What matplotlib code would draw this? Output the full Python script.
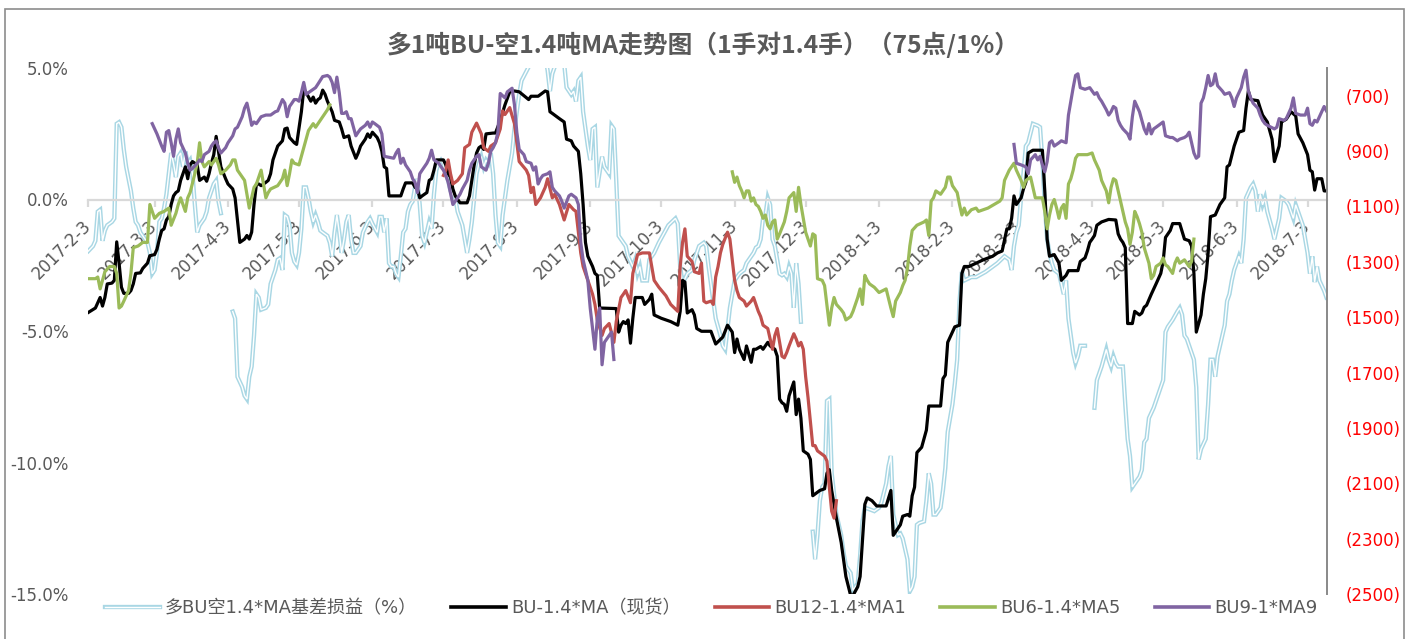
import datetime as dt
import numpy as np
import matplotlib
matplotlib.use("Agg")
import matplotlib.pyplot as plt
import matplotlib.dates as mdates
from matplotlib.ticker import FixedLocator, FuncFormatter
from matplotlib.lines import Line2D
from matplotlib.legend_handler import HandlerTuple
from matplotlib.patches import Rectangle
from matplotlib.font_manager import FontProperties

# ---------------- data ----------------
START_DATE = "2017-02-03"     # day 0 of the series (trading-day offsets below)
END_OFFSET = 523              # last day shown on the axis (2018-07-11)
TITLE = "多1吨BU-空1.4吨MA走势图（1手对1.4手）（75点/1%）"
TICK_DATES = ["2017-2-3", "2017-3-3", "2017-4-3", "2017-5-3", "2017-6-3", "2017-7-3",
              "2017-8-3", "2017-9-3", "2017-10-3", "2017-11-3", "2017-12-3", "2018-1-3",
              "2018-2-3", "2018-3-3", "2018-4-3", "2018-5-3", "2018-6-3", "2018-7-3"]
LEFT_TICKS = [-15, -10, -5, 0, 5]
RIGHT_TICKS = [-2500, -2300, -2100, -1900, -1700, -1500, -1300, -1100, -900, -700]
NAMES = ["多BU空1.4*MA基差损益（%）", "BU-1.4*MA（现货）", "BU12-1.4*MA1", "BU6-1.4*MA5", "BU9-1*MA9"]

# basis P&L in % (left axis); None = missing data
basis_pnl = [
    (0, -1.96), (2, -1.77), (3, -1.57), (4, -0.46), (5, -0.39), (6, -1.57), (7, -1.18), (8, -0.98),
    (10, -0.85), (11, -0.72), (12, 2.88), (13, 2.94), (14, 2.75), (15, 1.90), (16, 1.24), (17, 0.78),
    (18, 0.33), (19, -0.33), (20, -0.85), (21, -0.98), (22, -1.25), (23, -1.38), (24, -1.51), (25, -1.64),
    (26, -2.03), (27, -2.82), (28, -2.68), (29, -2.03), (30, -0.85), (31, -0.72), (32, -0.33), (33, 0.20),
    (34, 0.98), (35, 1.77), (36, 1.37), (37, 0.85), (38, 1.63), (39, 1.77), (40, 1.24), (41, 1.83),
    (42, 1.37), (43, 1.50), (44, 0.98), (45, -0.20), (46, -1.25), (47, -0.98), (49, -0.72), (50, -0.46),
    (51, 0.06), (53, 0.59), (54, 0.72), (55, -0.07), (56, -0.52), (58, None),
    (61, -4.26), (62, -4.52), (63, -6.74), (65, -7.13), (66, -7.46), (67, -7.59), (68, -6.74), (69, -6.35),
    (70, -5.17), (71, -3.60), (72, -3.73), (73, -4.19), (75, -4.12), (76, -3.99), (77, -3.21), (78, -2.95),
    (79, -2.68), (80, -2.29), (81, -2.23), (82, -2.68), (83, -0.59), (84, -0.66), (85, -0.98), (86, -2.03),
    (87, -2.36), (88, -2.49), (89, -2.03), (90, -1.11), (91, 0.46), (92, 0.46), (93, 0.06), (94, -0.46),
    (95, -0.85), (96, -0.59), (97, -0.85), (98, -1.18), (99, -1.25), (101, -1.38), (102, -1.64), (103, -2.16),
    (104, -1.25), (105, -0.59), (106, -1.25), (107, -2.03), (108, -1.51), (109, -0.85), (110, -0.59), (111, -1.51),
    (112, -2.03), (113, -2.03), (115, -1.77), (116, -1.25), (118, -0.85), (119, -0.72), (120, -0.92), (122, -1.25),
    (123, -0.66), (124, -0.66), (125, -1.25), (126, -0.72), (127, -2.42), (128, -2.55), (129, -2.55), (130, -2.82),
    (131, -2.95), (132, -2.16), (133, -1.25), (134, -1.11), (135, -0.46), (136, -0.20), (137, -0.07), (138, 0.46),
    (139, 0.78), (140, -0.20), (141, -1.38), (142, -1.64), (143, -1.25), (144, -0.85), (145, -1.11), (146, 0.20),
    (147, 1.11), (148, 1.37), (149, 1.50), (150, 1.37), (151, 0.98), (152, 0.72), (153, 0.33), (155, 0.06),
    (156, -0.46), (158, -0.98), (159, -1.51), (160, -2.03), (161, -1.51), (162, -0.85), (163, 0.06), (164, 0.98),
    (165, 1.37), (166, 1.63), (167, 1.24), (168, 1.50), (169, 1.37), (170, 1.77), (171, 0.98), (172, -0.59),
    (173, -1.64), (174, -1.77), (175, -0.59), (177, 0.72), (179, 1.77), (180, 2.68), (182, 4.00), (183, 4.52),
    (186, 5.04), (187, 5.43), (190, 5.56), (193, 5.43), (194, 4.91), (195, 4.12), (196, 4.78), (197, 5.04),
    (200, 5.30), (201, 5.17), (202, 4.26), (204, 3.99), (205, 4.12), (206, 3.73), (207, 4.52), (208, 4.65),
    (209, 3.34), (211, 2.03), (212, 1.50), (213, 2.68), (214, 2.75), (215, 0.46), (217, 1.63), (218, 1.24),
    (220, 0.98), (221, 2.81), (222, 2.68), (223, 0.72), (224, -1.38), (225, -1.51), (227, -1.77), (228, -2.16),
    (230, -2.55), (231, -2.29), (232, -2.82), (233, -2.55), (234, -3.08), (236, -3.08), (237, -2.29), (239, -2.03),
    (241, -1.64), (243, -1.31), (245, -0.98), (248, -0.72), (249, -0.92), (250, -2.55), (251, -3.21), (253, -2.82),
    (255, -2.68), (256, -2.29), (257, -2.03), (258, -1.77), (260, -1.64), (261, -1.77), (262, -2.55), (263, -3.21),
    (264, -3.86), (265, -4.52), (267, -5.17), (268, -5.56), (269, -5.70), (270, -4.91), (271, -4.12), (272, -3.60),
    (273, -3.08), (274, -2.95), (275, -2.82), (277, -2.68), (278, -2.42), (280, -2.16), (281, -2.03), (282, -1.83),
    (283, -1.77), (284, -1.51), (285, -0.72), (286, -0.59), (287, 0.06), (288, -0.20), (289, -1.51), (290, -1.77),
    (291, -2.29), (292, -2.82), (293, -2.88), (294, -2.82), (295, -2.95), (296, -2.55), (297, -2.82), (298, -4.12),
    (299, -2.42), (300, -3.21), (301, -4.65), (303, None),
    (306, -12.63), (307, -13.68), (308, -12.76), (309, -11.46), (310, -10.93), (311, -10.80), (312, -7.66), (313, -7.59),
    (314, -10.41), (315, -11.19), (316, -11.98), (318, -12.76), (319, -13.42), (320, -13.94), (322, -14.20), (323, -14.86),
    (325, -14.60), (326, -13.55), (327, -12.24), (328, -11.72), (330, -11.78), (332, -11.85), (334, -11.72), (335, -11.52),
    (337, -10.80), (338, -10.14), (339, -9.75), (340, -11.98), (342, -12.76), (343, -12.70), (344, -12.89), (346, -13.68),
    (347, -14.90), (348, -14.73), (349, -14.34), (350, -12.37), (351, -12.30), (353, -12.24), (354, -11.46), (355, -10.41),
    (356, -10.80), (357, -11.98), (358, -11.98), (360, -11.72), (361, -11.06), (362, -10.21), (363, -8.84), (365, -7.79),
    (366, -7.00), (367, -6.09), (368, -3.86), (369, -2.75), (370, -3.08), (373, -2.95), (375, -2.95), (379, -2.75),
    (382, -2.55), (384, -2.42), (387, -2.16), (389, -2.29), (390, -2.68), (391, -1.77), (392, -1.25), (393, -0.98),
    (394, 0.06), (395, 0.98), (396, 2.03), (397, 2.16), (399, 2.88), (401, 2.81), (402, 2.75), (403, 1.50),
    (404, -0.20), (405, -1.51), (406, -2.03), (407, -2.42), (408, -2.68), (410, -2.82), (411, -3.21), (412, -3.60),
    (413, -3.08), (414, -4.52), (415, -5.17), (416, -5.83), (417, -6.22), (418, -5.96), (419, -5.56), (421, -5.56),
    (423, None),
    (425, -7.92), (426, -6.87), (428, -6.35), (430, -5.70), (431, -6.09), (432, -6.35), (433, -5.96), (434, -6.22),
    (435, -6.35), (437, -6.35), (438, -7.79), (439, -9.10), (440, -9.75), (441, -10.93), (442, -10.80), (444, -10.54),
    (445, -10.28), (446, -9.23), (447, -9.10), (448, -8.31), (450, -7.92), (452, -7.40), (454, -6.87), (455, -5.04),
    (456, -4.84), (458, -4.58), (460, -4.26), (461, -4.12), (462, -4.38), (463, -5.17), (464, -5.30), (465, -5.56),
    (467, -6.09), (468, -7.14), (469, -9.88), (470, -9.49), (472, -9.10), (473, -7.79), (474, -6.09), (475, -6.09),
    (476, -6.74), (477, -5.96), (479, -5.17), (480, -4.78), (481, -3.86), (482, -3.60), (483, -3.08), (484, -2.68),
    (486, -2.16), (487, -2.42), (488, -1.51), (489, 0.06), (491, 0.46), (492, 0.59), (493, 0.33), (494, -0.46),
    (495, 0.20), (496, -0.20), (497, 0.06), (498, -0.46), (500, -1.11), (501, -1.51), (503, -0.72), (504, 0.06),
    (506, -0.07), (507, -0.20), (508, -0.46), (509, -0.72), (510, -0.20), (512, -0.72), (513, -0.98), (514, -1.51),
    (515, -2.03), (516, -2.82), (517, -2.16), (518, -3.14), (519, -2.55), (520, -3.08), (522, -3.47), (523, -3.73),
]

# spreads in points (right axis)
spot_spread = [
    (0, -1483), (3, -1467), (4, -1448), (5, -1429), (6, -1460), (7, -1429), (8, -1380), (10, -1377), (11, -1367),
    (12, -1228), (13, -1305), (14, -1392), (15, -1414), (17, -1414), (18, -1404), (19, -1380), (20, -1342), (22, -1340),
    (23, -1324), (25, -1305), (26, -1278), (28, -1274), (29, -1255), (30, -1218), (31, -1187), (32, -1181), (33, -1149),
    (34, -1137), (35, -1093), (36, -1062), (37, -1050), (38, -1044), (39, -1006), (40, -982), (41, -957), (42, -1000),
    (43, -950), (44, -938), (46, -950), (47, -1006), (49, -994), (50, -1009), (51, -982), (52, -944), (53, -913),
    (54, -847), (55, -901), (56, -957), (58, -1000), (59, -1019), (61, -1037), (62, -1069), (64, -1230), (66, -1218),
    (67, -1205), (68, -1218), (69, -1193), (70, -1093), (71, -1019), (72, -1019), (73, -1025), (75, -1013), (76, -1006),
    (77, -982), (78, -932), (79, -907), (80, -882), (82, -863), (83, -820), (84, -817), (85, -851), (87, -870),
    (88, -876), (90, -758), (91, -677), (92, -689), (94, -720), (95, -705), (96, -727), (97, -714), (98, -708),
    (99, -680), (100, -695), (101, -720), (103, -758), (104, -789), (106, -795), (107, -820), (108, -851), (110, -845),
    (111, -882), (113, -926), (114, -907), (115, -882), (117, -857), (118, -838), (119, -851), (120, -832), (122, -851),
    (123, -870), (124, -901), (125, -957), (126, -963), (127, -1062), (132, -1062), (133, -1037), (134, -1015),
    (137, -1015), (138, -1031), (139, -1037), (140, -1069), (141, -1062), (143, -1050), (144, -1006), (145, -1000),
    (146, -969), (147, -932), (150, -932), (151, -950), (152, -982), (153, -994), (154, -1037), (155, -1062),
    (157, -1087), (160, -1087), (161, -1062), (162, -1006), (163, -950), (164, -907), (165, -888), (166, -882),
    (167, -894), (168, -838), (171, -835), (172, -835), (174, -789), (176, -733), (178, -686), (180, -683), (182, -686),
    (186, -714), (187, -702), (190, -702), (193, -683), (194, -686), (195, -758), (196, -764), (199, -783), (201, -795),
    (202, -857), (204, -863), (205, -882), (207, -901), (208, -982), (209, -1093), (210, -1230), (211, -1280),
    (213, -1317), (214, -1342), (215, -1349), (216, -1467), (223, -1469), (224, -1554), (225, -1529), (226, -1516),
    (227, -1523), (228, -1510), (229, -1594), (230, -1504), (231, -1429), (234, -1429), (235, -1454), (237, -1436),
    (238, -1417), (239, -1492), (242, -1504), (246, -1516), (249, -1529), (250, -1479), (251, -1367), (252, -1373),
    (253, -1485), (255, -1473), (256, -1492), (257, -1541), (259, -1551), (263, -1551), (265, -1597), (268, -1572),
    (270, -1529), (272, -1554), (273, -1628), (274, -1579), (275, -1616), (277, -1653), (278, -1604), (280, -1663),
    (281, -1616), (282, -1616), (284, -1606), (285, -1616), (287, -1591), (288, -1604), (290, -1616), (291, -1641),
    (292, -1796), (293, -1809), (294, -1815), (295, -1840), (296, -1784), (298, -1734), (299, -1852), (300, -1796),
    (301, -1865), (302, -1983), (304, -1995), (305, -2014), (306, -2145), (308, -2132), (309, -2126), (311, -2120),
    (312, -2064), (313, -2051), (314, -2126), (316, -2226), (318, -2313), (320, -2437), (322, -2505), (323, -2505),
    (325, -2474), (326, -2437), (328, -2176), (329, -2153), (331, -2163), (333, -2182), (337, -2182), (339, -2126),
    (340, -2288), (342, -2263), (343, -2250), (344, -2219), (346, -2213), (347, -2219), (348, -2145), (349, -2114),
    (350, -1989), (352, -1970), (354, -1908), (355, -1821), (360, -1821), (361, -1722), (362, -1709), (363, -1591),
    (365, -1554), (366, -1535), (368, -1529), (369, -1342), (370, -1317), (372, -1317), (375, -1305), (378, -1293),
    (382, -1280), (384, -1268), (386, -1261), (388, -1181), (389, -1181), (390, -1143), (391, -1062), (392, -1093),
    (394, -1069), (395, -1037), (396, -1013), (397, -907), (399, -897), (403, -897), (404, -1044), (405, -1218),
    (406, -1280), (408, -1274), (410, -1305), (411, -1367), (413, -1349), (414, -1332), (418, -1332), (419, -1299),
    (421, -1286), (422, -1261), (423, -1230), (424, -1218), (425, -1205), (426, -1168), (428, -1156), (431, -1147),
    (434, -1149), (435, -1199), (436, -1218), (437, -1230), (438, -1249), (439, -1523), (441, -1523), (442, -1479),
    (444, -1492), (445, -1485), (446, -1464), (447, -1457), (449, -1417), (451, -1380), (453, -1342), (454, -1299),
    (455, -1212), (457, -1187), (458, -1162), (461, -1162), (463, -1218), (465, -1224), (466, -1243), (467, -1342),
    (468, -1554), (470, -1492), (471, -1417), (472, -1361), (473, -1268), (474, -1137), (476, -1131), (478, -1093),
    (480, -1069), (481, -957), (482, -950), (484, -882), (486, -832), (488, -826), (489, -745), (490, -683),
    (491, -714), (494, -718), (495, -745), (496, -770), (498, -795), (500, -857), (501, -938), (503, -882),
    (504, -795), (506, -785), (508, -758), (510, -773), (511, -838), (513, -870), (515, -913), (516, -969),
    (517, -975), (518, -1041), (519, -1000), (521, -1000), (522, -1044), (523, -1044),
]

bu12_ma1 = [
    (150, -988), (151, -969), (152, -932), (153, -982), (154, -1019), (156, -1006), (158, -982), (159, -888),
    (161, -876), (162, -832), (164, -799), (166, -838), (167, -888), (169, -901), (170, -882), (172, -870),
    (174, -820), (175, -755), (176, -768), (178, -743), (180, -801), (181, -870), (182, -938), (185, -969),
    (186, -988), (187, -1050), (188, -1031), (189, -1093), (191, -1069), (193, -1031), (194, -1000), (196, -1069),
    (197, -1056), (199, -1093), (201, -1149), (203, -1093), (205, -1112), (206, -1118), (208, -1268), (209, -1317),
    (211, -1367), (213, -1417), (214, -1454), (215, -1510), (217, -1566), (218, -1541), (220, -1523), (222, -1591),
    (223, -1516), (225, -1429), (226, -1417), (227, -1404), (229, -1448), (230, -1342), (232, -1274), (234, -1268),
    (237, -1268), (239, -1367), (241, -1392), (244, -1423), (246, -1454), (249, -1479), (250, -1317), (251, -1230),
    (252, -1181), (253, -1280), (255, -1299), (256, -1336), (258, -1342), (259, -1305), (260, -1442), (261, -1448),
    (263, -1442), (264, -1454), (265, -1355), (266, -1317), (267, -1268), (268, -1237), (270, -1193), (271, -1218),
    (272, -1293), (273, -1367), (274, -1404), (275, -1429), (277, -1442), (278, -1460), (280, -1442), (281, -1429),
    (282, -1454), (283, -1479), (284, -1498), (285, -1529), (287, -1541), (288, -1579), (289, -1616), (290, -1566),
    (291, -1541), (292, -1591), (293, -1641), (294, -1647), (295, -1628), (296, -1604), (298, -1560), (299, -1579),
    (300, -1604), (301, -1591), (302, -1616), (303, -1715), (304, -1790), (306, -1964), (307, -1964), (308, -1983),
    (311, -2002), (312, -2020), (313, -2114), (314, -2201), (315, -2226), (316, -2163),
]

bu6_ma5 = [
    (0, -1361), (3, -1361), (4, -1355), (5, -1398), (6, -1367), (7, -1336), (9, -1317), (11, -1317), (12, -1342),
    (13, -1467), (14, -1460), (15, -1442), (17, -1404), (18, -1342), (19, -1249), (21, -1243), (23, -1230),
    (25, -1230), (26, -1093), (27, -1118), (28, -1143), (30, -1125), (32, -1118), (34, -1106), (35, -1168),
    (37, -1125), (38, -1093), (39, -1069), (41, -1118), (42, -1069), (43, -1050), (45, -982), (46, -944), (47, -870),
    (48, -938), (49, -957), (51, -938), (52, -950), (54, -926), (55, -950), (56, -982), (58, -969), (60, -950),
    (61, -932), (62, -932), (63, -969), (65, -994), (66, -1006), (68, -1106), (69, -1069), (70, -1031), (71, -1019),
    (73, -969), (75, -1069), (76, -1050), (77, -1037), (80, -1025), (82, -1000), (83, -969), (84, -1025), (85, -982),
    (86, -932), (87, -944), (89, -950), (91, -888), (93, -826), (95, -801), (96, -814), (99, -776), (101, -751),
    (102, -733), (150, None),
    (272, -975), (273, -1013), (274, -994), (275, -1025), (276, -1044), (277, -1069), (278, -1044), (279, -1044),
    (280, -1081), (281, -1069), (282, -1093), (283, -1100), (284, -1118), (285, -1143), (286, -1131), (287, -1168),
    (288, -1181), (289, -1156), (290, -1149), (291, -1218), (292, -1199), (294, -1156), (295, -1118), (296, -1069),
    (298, -1050), (299, -1118), (300, -1031), (301, -1093), (302, -1143), (303, -1193), (305, -1243), (306, -1199),
    (307, -1205), (308, -1361), (310, -1367), (311, -1386), (313, -1529), (314, -1467), (315, -1429), (316, -1454),
    (318, -1473), (319, -1485), (320, -1510), (322, -1498), (323, -1479), (325, -1429), (326, -1398), (327, -1454),
    (328, -1349), (329, -1367), (330, -1380), (332, -1392), (334, -1411), (337, -1398), (339, -1467), (340, -1498),
    (341, -1442), (343, -1411), (344, -1386), (345, -1367), (346, -1324), (347, -1243), (348, -1187), (350, -1168),
    (353, -1156), (354, -1149), (355, -1205), (356, -1081), (357, -1069), (358, -1044), (360, -1056), (362, -1031),
    (363, -994), (364, -994), (365, -1025), (367, -1050), (368, -1093), (369, -1131), (370, -1106), (371, -1131),
    (373, -1112), (375, -1106), (376, -1118), (380, -1106), (385, -1081), (386, -1069), (387, -1006), (389, -969),
    (391, -944), (392, -969), (394, -1006), (395, -1031), (396, -1006), (398, -994), (399, -1031), (400, -1069),
    (403, -1069), (404, -1118), (405, -1181), (406, -1131), (407, -1093), (408, -1075), (409, -1106), (410, -1143),
    (411, -1106), (412, -1093), (413, -1143), (414, -1019), (415, -1000), (416, -969), (417, -926), (418, -913),
    (422, -913), (424, -907), (425, -932), (427, -969), (428, -1006), (430, -1044), (431, -1087), (432, -1031),
    (433, -1000), (434, -1006), (435, -1044), (436, -1081), (437, -1118), (438, -1156), (439, -1181), (440, -1237),
    (441, -1193), (442, -1118), (443, -1137), (444, -1162), (445, -1193), (446, -1249), (448, -1305), (449, -1361),
    (450, -1349), (451, -1317), (453, -1305), (454, -1286), (455, -1311), (456, -1317), (458, -1342), (459, -1305),
    (460, -1286), (461, -1305), (463, -1293), (464, -1305), (465, -1317), (466, -1299), (467, -1218),
]

bu9_ma9 = [
    (27, -801), (29, -838), (31, -882), (32, -901), (33, -832), (34, -826), (35, -870), (36, -919), (37, -857),
    (38, -820), (39, -870), (41, -907), (42, -944), (43, -969), (44, -963), (46, -944), (47, -932), (48, -938),
    (49, -913), (51, -901), (52, -882), (53, -870), (54, -863), (55, -888), (56, -907), (58, -888), (59, -870),
    (61, -845), (62, -820), (63, -814), (65, -776), (66, -745), (67, -727), (68, -764), (69, -807), (70, -795),
    (71, -801), (73, -776), (75, -770), (77, -770), (79, -758), (80, -755), (82, -714), (83, -727), (84, -776),
    (85, -739), (86, -727), (87, -714), (88, -714), (89, -720), (90, -689), (91, -652), (92, -695), (93, -689),
    (94, -683), (96, -671), (97, -658), (99, -631), (101, -627), (102, -633), (103, -652), (104, -689), (105, -633),
    (106, -689), (107, -764), (108, -764), (109, -758), (110, -783), (111, -783), (112, -814), (113, -845),
    (114, -832), (115, -820), (117, -807), (118, -795), (119, -814), (120, -795), (121, -801), (123, -814),
    (124, -838), (125, -919), (129, -926), (130, -907), (131, -894), (132, -944), (133, -926), (134, -950),
    (136, -975), (137, -1000), (138, -1013), (139, -1050), (140, -982), (141, -969), (143, -944), (144, -926),
    (145, -897), (146, -932), (148, -944), (149, -957), (150, -969), (151, -988), (152, -1013), (154, -1093),
    (156, -1069), (157, -1056), (158, -1037), (160, -1006), (161, -969), (162, -944), (164, -919), (165, -913),
    (166, -957), (168, -969), (169, -944), (170, -901), (171, -888), (172, -870), (173, -832), (174, -692),
    (176, -708), (177, -686), (179, -673), (180, -733), (181, -832), (182, -894), (184, -913), (185, -938),
    (187, -944), (188, -969), (189, -957), (190, -1019), (191, -1000), (192, -988), (194, -982), (195, -975),
    (196, -1031), (197, -1044), (199, -1062), (200, -1081), (201, -1106), (203, -1062), (204, -1056), (206, -1069),
    (207, -1093), (208, -1230), (209, -1293), (211, -1367), (212, -1467), (213, -1541), (214, -1616), (215, -1504),
    (216, -1467), (217, -1672), (218, -1591), (220, -1566), (221, -1554), (222, -1653), (300, None),
    (391, -876), (392, -944), (394, -950), (396, -957), (397, -982), (398, -932), (400, -913), (401, -932),
    (402, -919), (403, -950), (404, -975), (405, -938), (406, -870), (407, -863), (408, -882), (410, -870),
    (411, -863), (413, -870), (414, -770), (415, -720), (416, -671), (417, -627), (418, -621), (419, -671),
    (421, -677), (423, -671), (424, -683), (425, -695), (426, -689), (427, -708), (428, -720), (430, -751),
    (431, -770), (432, -758), (433, -739), (434, -745), (435, -789), (436, -807), (437, -820), (439, -838),
    (440, -857), (441, -776), (442, -720), (443, -739), (444, -758), (446, -820), (447, -838), (448, -801),
    (449, -838), (450, -820), (451, -814), (453, -801), (454, -795), (455, -845), (457, -851), (458, -851),
    (460, -863), (461, -857), (463, -851), (464, -845), (465, -832), (467, -907), (468, -926), (469, -919),
    (470, -727), (471, -708), (472, -671), (473, -627), (474, -664), (475, -658), (476, -621), (477, -664),
    (479, -683), (480, -695), (482, -689), (483, -708), (484, -739), (485, -708), (487, -671), (488, -633),
    (489, -608), (490, -683), (491, -708), (492, -727), (494, -745), (495, -770), (496, -789), (497, -801),
    (498, -807), (501, -820), (502, -814), (503, -783), (505, -789), (506, -783), (508, -745), (509, -708),
    (510, -764), (512, -770), (514, -770), (515, -745), (516, -801), (517, -807), (518, -789), (519, -795),
    (521, -758), (522, -739), (523, -755),
]

# ---------------- styling ----------------
C_LB = "#A9D7E4"
C_BK = "#000000"
C_RD = "#C0504D"
C_GN = "#9BBB59"
C_PU = "#8064A2"
C_TXT = "#595959"
W, H = 1407, 639

plt.rcParams["font.family"] = ["DejaVu Sans", "Noto Sans CJK SC"]

base = mdates.date2num(dt.datetime.strptime(START_DATE, "%Y-%m-%d"))


def xy(series):
    d = np.array([p[0] for p in series], dtype=float) + base
    v = np.array([np.nan if p[1] is None else p[1] for p in series], dtype=float)
    return d, v


fig = plt.figure(figsize=(W / 100, H / 100), dpi=100)
ax = fig.add_axes([88.3 / W, 1 - 594 / H, (1326.5 - 88.3) / W, (594 - 68) / H])
ax2 = ax.twinx()

# left axis: basis P&L (double line)
x, y = xy(basis_pnl)
ax.plot(x, y, color=C_LB, lw=3.1, solid_joinstyle="miter", zorder=2)
ax.plot(x, y, color="white", lw=1.0, solid_joinstyle="miter", zorder=2.1)

# right axis: spreads
for ser, col in [(spot_spread, C_BK), (bu12_ma1, C_RD), (bu6_ma5, C_GN), (bu9_ma9, C_PU)]:
    x, y = xy(ser)
    ax2.plot(x, y, color=col, lw=2.3, solid_joinstyle="round")

ax.set_xlim(base, base + END_OFFSET)
ax.set_ylim(-15, 5)
ax2.set_ylim(-2500, -600)

tick_pos = [mdates.date2num(dt.datetime.strptime(t, "%Y-%m-%d")) for t in TICK_DATES]
ax.xaxis.set_major_locator(FixedLocator(tick_pos))
ax.set_xticklabels(TICK_DATES)
ax.set_yticks(LEFT_TICKS)
ax.yaxis.set_major_formatter(FuncFormatter(lambda v, p: f"{v:.1f}%"))
ax2.set_yticks(RIGHT_TICKS)
ax2.yaxis.set_major_formatter(FuncFormatter(lambda v, p: f"({-v:.0f})"))

for s in ["left", "right", "top"]:
    ax.spines[s].set_visible(False)
ax.spines["bottom"].set_position(("data", 0))
ax.spines["bottom"].set_color("#D9D9D9")
ax.spines["bottom"].set_linewidth(1.6)
for s in ["left", "top", "bottom"]:
    ax2.spines[s].set_visible(False)
ax2.spines["right"].set_color("#898989")
ax2.spines["right"].set_linewidth(1.4)

ax.tick_params(axis="y", length=0, pad=14, labelsize=12, labelcolor=C_TXT)
ax.tick_params(axis="x", length=5, width=1.6, color="#D9D9D9", direction="out",
               labelsize=12, labelcolor=C_TXT, pad=12)
for lab in ax.get_xticklabels():
    lab.set_rotation(45)
    lab.set_ha("right")
    lab.set_va("center")
    lab.set_rotation_mode("anchor")
ax2.tick_params(axis="y", length=0, pad=14, labelsize=12, labelcolor="#FF0000")

# title
fig.text(0.5, 1 - 45 / H, TITLE, ha="center", va="center", fontsize=17.8, fontweight="bold",
         color=C_TXT, family=["Noto Sans CJK SC"])

# legend
handles = [
    (Line2D([], [], color=C_LB, lw=3.1), Line2D([], [], color="white", lw=1.0)),
    Line2D([], [], color=C_BK, lw=2.6),
    Line2D([], [], color=C_RD, lw=2.6),
    Line2D([], [], color=C_GN, lw=2.6),
    Line2D([], [], color=C_PU, lw=2.6),
]
leg = fig.legend(handles, NAMES, loc="center", bbox_to_anchor=(711.5 / W, 1 - 608 / H), ncol=5,
                 frameon=False, handlelength=3.0, handletextpad=0.3, columnspacing=1.9,
                 prop=FontProperties(family=["DejaVu Sans", "Noto Sans CJK SC"], size=13),
                 labelcolor=C_TXT, handler_map={tuple: HandlerTuple(ndivide=1)})

# chart border
fig.add_artist(Rectangle((5 / W, -0.05), 1399 / W, (H - 9) / H + 0.05, transform=fig.transFigure,
                         fill=False, ec="#8C8C8C", lw=1.2))

fig.savefig("out.png", dpi=100)
